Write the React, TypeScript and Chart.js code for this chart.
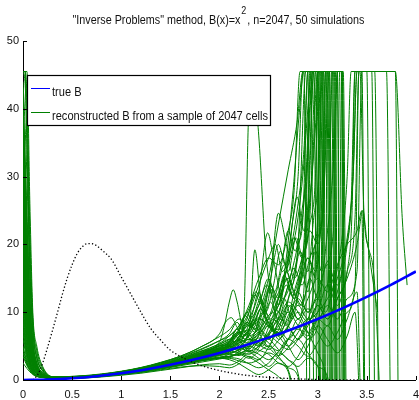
import React, { useEffect, useRef } from "react";
import { Chart, registerables } from "chart.js";
Chart.register(...registerables);

const titleParts = ['"Inverse Problems" method, B(x)=x', "2", ", n=2047, 50 simulations"];
const legendLabels = ["true B", "reconstructed B from a sample of 2047 cells"];

const xTicks = [0, 0.5, 1, 1.5, 2, 2.5, 3, 3.5, 4];
const xTickLabels = ["0", "0.5", "1", "1.5", "2", "2.5", "3", "3.5", "4"];
const yTicks = [0, 10, 20, 30, 40, 50];
const yTickLabels = ["0", "10", "20", "30", "40", "50"];

// true B(x) = x^2, read at quarter steps
const trueX = [0, 0.25, 0.5, 0.75, 1, 1.25, 1.5, 1.75, 2, 2.25, 2.5, 2.75, 3, 3.25, 3.5, 3.75, 4];
const trueY = [0, 0.0625, 0.25, 0.5625, 1, 1.5625, 2.25, 3.0625, 4, 5.0625, 6.25, 7.5625, 9, 10.5625, 12.25, 14.0625, 16];

// dotted density curve
const densX = [0.1, 0.15, 0.2, 0.25, 0.3, 0.35, 0.4, 0.45, 0.5, 0.55, 0.6, 0.65, 0.7, 0.75, 0.8, 0.9, 1.0, 1.1, 1.2, 1.3, 1.4, 1.5, 1.6, 1.7, 1.8, 2.0, 2.2, 2.4, 2.6, 2.8, 3.0, 3.2, 3.5];
const densY = [0, 0.8, 2.5, 4.8, 7.3, 9.9, 12.6, 15.0, 17.0, 18.6, 19.6, 20.1, 20.1, 19.8, 19.2, 17.8, 15.2, 12.6, 10.0, 7.6, 5.9, 4.4, 3.5, 2.8, 2.2, 1.4, 0.85, 0.5, 0.3, 0.16, 0.08, 0.04, 0.01];

// shared x grid for the first part of every reconstruction
const headX = [0, 0.02, 0.04, 0.07, 0.1, 0.14, 0.2, 0.3, 0.45, 0.6, 0.8, 1.0, 1.2, 1.4, 1.6, 1.8, 2.0];

type Sim = { head: number[]; tail: number[][] };

const sim01: Sim = { head: [45.5, 45.5, 45.5, 26, 10, 5, 2, 0.5, 0.5, 0.6, 0.8, 1.15, 1.6, 2.2, 2.9, 3.7, 4.6], tail: [[2.1, 5.2], [2.2, 6.0], [2.3, 7.5], [2.4, 10], [2.5, 15], [2.6, 23], [2.7, 31], [2.79, 38], [2.85, 45.5], [3.25, 45.5], [3.28, -5]] };
const sim02: Sim = { head: [45.5, 44, 36, 17, 7.5, 3.4, 1.4, 0.45, 0.4, 0.45, 0.7, 1.05, 1.5, 2.0, 2.6, 3.3, 4.0], tail: [[2.1, 4.6], [2.2, 6], [2.25, 10], [2.3, 40], [2.35, 43], [2.4, 36], [2.47, 19], [2.55, 11], [2.63, 8], [2.72, 11], [2.8, 9], [2.87, 16], [2.92, 45.5], [3.0, 45.5], [3.03, -5]] };
const sim03: Sim = { head: [41, 32, 23, 11.5, 5.5, 2.5, 1.0, 0.4, 0.35, 0.4, 0.6, 0.95, 1.4, 1.9, 2.5, 3.2, 4.1], tail: [[2.1, 5], [2.16, 6.5], [2.24, 5], [2.35, 4], [2.45, 6], [2.55, 9], [2.65, 7], [2.75, 10], [2.85, 18], [2.95, 45.5], [3.12, 45.5], [3.15, -5]] };
const sim04: Sim = { head: [36, 26, 18, 9, 4.5, 2.0, 0.8, 0.36, 0.3, 0.35, 0.55, 0.9, 1.3, 1.8, 2.4, 3.0, 3.6], tail: [[2.1, 4.1], [2.2, 5.2], [2.3, 4.6], [2.4, 6.5], [2.5, 8.5], [2.6, 7], [2.7, 12], [2.8, 20], [2.88, 45.5], [2.93, 45.5], [2.96, -5]] };
const sim05: Sim = { head: [30, 22, 15, 7, 3.5, 1.6, 0.7, 0.35, 0.45, 0.55, 0.8, 1.2, 1.7, 2.3, 3.1, 4.2, 5.6], tail: [[2.05, 8], [2.1, 11.5], [2.14, 13.3], [2.18, 11.5], [2.23, 8], [2.3, 6.5], [2.4, 7.5], [2.5, 9], [2.6, 6], [2.7, 8], [2.8, 13], [2.9, 10], [2.97, 16], [3.0, 45.5], [3.06, 45.5], [3.08, -5]] };
const sim06: Sim = { head: [25, 17, 11, 5.5, 2.8, 1.3, 0.6, 0.32, 0.3, 0.4, 0.6, 0.95, 1.4, 1.9, 2.4, 2.9, 3.3], tail: [[2.1, 3.4], [2.2, 3.8], [2.3, 3.2], [2.4, 4.2], [2.5, 5], [2.6, 4.3], [2.7, 6], [2.8, 7.5], [2.9, 6.5], [3.0, 9], [3.1, 8], [3.2, 12], [3.3, 16], [3.35, 25], [3.38, 45.5], [3.79, 45.5], [3.86, 24], [3.91, 14]] };
const sim07: Sim = { head: [20, 14, 9, 4.5, 2.2, 1.1, 0.5, 0.3, 0.35, 0.45, 0.7, 1.05, 1.5, 2.1, 2.9, 3.9, 5.0], tail: [[2.1, 5.8], [2.2, 7], [2.3, 6.2], [2.4, 5], [2.5, 6.5], [2.6, 9], [2.7, 8], [2.8, 6], [2.9, 8], [3.0, 11], [3.1, 9], [3.2, 13], [3.3, 20], [3.36, 30], [3.4, 45.5], [3.43, 45.5], [3.47, 25], [3.52, 19], [3.61, 10]] };
const sim08: Sim = { head: [15, 10, 6.5, 3.2, 1.7, 0.9, 0.5, 0.3, 0.3, 0.35, 0.6, 0.9, 1.25, 1.7, 2.3, 3.1, 4.3], tail: [[2.1, 5], [2.2, 4.5], [2.3, 5.5], [2.4, 7], [2.5, 6], [2.6, 8.5], [2.7, 11], [2.8, 9], [2.9, 12], [3.0, 15], [3.1, 13], [3.2, 17], [3.3, 20], [3.4, 22], [3.45, 25], [3.47, -5]] };
const sim09: Sim = { head: [10, 7, 4.5, 2.5, 1.3, 0.7, 0.42, 0.3, 0.4, 0.5, 0.75, 1.1, 1.55, 2.15, 2.8, 3.6, 4.8], tail: [[2.1, 5.6], [2.2, 7.2], [2.28, 10], [2.36, 7.5], [2.44, 9], [2.52, 14], [2.6, 11], [2.68, 18], [2.75, 28], [2.81, 39], [2.86, 45.5], [2.9, 45.5], [2.92, -5]] };
const sim10: Sim = { head: [6, 4.5, 3, 1.8, 1.0, 0.6, 0.4, 0.3, 0.35, 0.4, 0.65, 1.0, 1.4, 1.85, 2.3, 2.8, 3.2], tail: [[2.1, 3.5], [2.2, 3.9], [2.3, 3.4], [2.4, 2.5], [2.5, 1.5], [2.6, 0.5], [2.7, -2], [2.75, -10]] };
const sim11: Sim = { head: [3.5, 2.8, 2.1, 1.4, 0.9, 0.55, 0.38, 0.3, 0.3, 0.38, 0.62, 0.98, 1.45, 2.05, 2.75, 3.5, 4.4], tail: [[2.1, 5], [2.2, 6.3], [2.28, 8.5], [2.36, 7.5], [2.44, 11], [2.52, 14], [2.6, 12], [2.68, 16], [2.76, 21], [2.84, 18], [2.91, 27], [2.96, 45.5], [3.18, 45.5], [3.2, -5]] };
const sim12: Sim = { head: [44, 38, 30, 15, 7, 3.2, 1.3, 0.44, 0.45, 0.5, 0.7, 1.0, 1.35, 1.8, 2.35, 3.0, 3.9], tail: [[2.1, 4.3], [2.2, 4.0], [2.3, 4.8], [2.4, 6.2], [2.5, 5.5], [2.6, 3.5], [2.7, 2], [2.8, 3.5], [2.9, 6], [3.0, 8], [3.05, 20], [3.08, 45.5], [3.14, 45.5], [3.17, -5]] };
const sim13: Sim = { head: [28, 20, 13.5, 6.5, 3.3, 1.5, 0.7, 0.34, 0.3, 0.35, 0.55, 0.85, 1.2, 1.6, 2.1, 2.6, 3.1], tail: [[2.1, 3.3], [2.2, 3.1], [2.3, 2.4], [2.4, 1.8], [2.5, 2.5], [2.6, 4], [2.7, 3], [2.8, 1], [2.85, -5]] };
const sim14: Sim = { head: [18, 12.5, 8, 4.1, 2.0, 1.0, 0.5, 0.3, 0.4, 0.5, 0.78, 1.15, 1.65, 2.3, 3.0, 3.8, 4.5], tail: [[2.1, 5], [2.2, 6.5], [2.3, 9], [2.4, 13], [2.49, 21.7], [2.56, 17], [2.64, 12], [2.72, 14], [2.8, 19], [2.88, 30], [2.93, 45.5], [3.1, 45.5], [3.13, -5]] };
const sim15: Sim = { head: [39, 30, 22, 11, 5.2, 2.4, 1.0, 0.4, 0.35, 0.42, 0.66, 1.02, 1.5, 2.1, 2.8, 3.5, 4.0], tail: [[2.1, 4.4], [2.2, 5.5], [2.3, 7.5], [2.36, 9], [2.42, 7.5], [2.5, 6], [2.6, 8], [2.7, 10], [2.8, 8], [2.9, 6], [3.0, 9], [3.1, 14], [3.15, 45.5], [3.22, 45.5], [3.25, -5]] };
const sim16: Sim = { head: [34, 25, 17, 8.5, 4.2, 1.9, 0.8, 0.36, 0.32, 0.4, 0.6, 0.92, 1.35, 1.9, 2.6, 3.5, 4.7], tail: [[2.1, 5.4], [2.2, 5.8], [2.28, 4.6], [2.36, 6], [2.44, 5], [2.52, 7.5], [2.6, 10], [2.68, 8], [2.76, 13], [2.84, 16], [2.9, 13], [2.96, 19], [3.0, 24], [3.04, 45.5], [3.09, 45.5], [3.12, -5]] };
const sim17: Sim = { head: [31, 23, 15.5, 7.2, 3.6, 1.6, 0.7, 0.35, 0.4, 0.48, 0.72, 1.08, 1.52, 2.05, 2.65, 3.25, 3.8], tail: [[2.1, 4.2], [2.2, 4.9], [2.3, 6.5], [2.4, 9], [2.5, 12], [2.6, 24.6], [2.68, 20], [2.76, 15], [2.84, 18], [2.92, 24], [2.98, 45.5], [3.2, 45.5], [3.23, -5]] };
const sim18: Sim = { head: [23, 16, 10.5, 5.2, 2.6, 1.25, 0.6, 0.32, 0.36, 0.44, 0.68, 1.04, 1.5, 2.05, 2.7, 3.5, 4.5], tail: [[2.1, 5.1], [2.2, 6], [2.3, 5.4], [2.4, 6.8], [2.5, 8], [2.6, 6.5], [2.7, 5], [2.8, 6], [2.9, 4], [3.0, 2], [3.1, 0.5], [3.15, -5]] };
const sim19: Sim = { head: [19, 13.5, 8.8, 4.4, 2.1, 1.05, 0.5, 0.3, 0.3, 0.36, 0.58, 0.92, 1.36, 1.88, 2.45, 3.05, 3.7], tail: [[2.1, 4], [2.2, 4.4], [2.3, 5.5], [2.4, 7], [2.5, 9.5], [2.6, 11], [2.7, 18], [2.79, 27], [2.86, 22], [2.94, 30], [3.0, 45.5], [3.05, 45.5], [3.07, -5]] };
const sim20: Sim = { head: [14, 9.5, 6.2, 3.1, 1.65, 0.88, 0.5, 0.3, 0.42, 0.5, 0.74, 1.1, 1.58, 2.18, 2.9, 3.8, 5.0], tail: [[2.1, 5.6], [2.18, 7.5], [2.26, 6], [2.34, 8.8], [2.42, 6.5], [2.5, 5], [2.58, 8], [2.66, 12], [2.74, 9], [2.82, 14], [2.9, 18], [2.98, 15], [3.03, 45.5], [3.24, 45.5], [3.27, -5]] };
const sim21: Sim = { head: [45.5, 45.5, 42, 22, 9, 4.4, 1.8, 0.48, 0.45, 0.52, 0.76, 1.12, 1.6, 2.2, 2.85, 3.6, 4.5], tail: [[2.1, 4.5], [2.2, 5.5], [2.3, 7], [2.36, 19.2], [2.42, 12], [2.5, 8], [2.6, 7], [2.7, 9], [2.8, 11], [2.9, 9], [3.0, 12], [3.06, 45.5], [3.11, 45.5], [3.14, -5]] };
const sim22: Sim = { head: [8.5, 6, 4, 2.2, 1.2, 0.65, 0.4, 0.3, 0.3, 0.34, 0.56, 0.88, 1.3, 1.8, 2.4, 3.1, 3.8], tail: [[2.1, 3.8], [2.2, 3.6], [2.3, 4.5], [2.4, 5.5], [2.5, 4.8], [2.6, 3.6], [2.7, 4.8], [2.8, 7], [2.9, 9], [3.0, 7], [3.1, 5], [3.2, 7], [3.3, 10], [3.38, 14], [3.42, 45.5], [3.7, 45.5], [3.74, -5]] };
const sim23: Sim = { head: [6.8, 5, 3.3, 1.9, 1.05, 0.6, 0.4, 0.3, 0.38, 0.46, 0.7, 1.06, 1.52, 2.1, 2.8, 3.7, 4.7], tail: [[2.1, 4.8], [2.2, 6], [2.28, 8.5], [2.36, 7], [2.44, 10], [2.52, 13.5], [2.6, 10], [2.68, 15], [2.76, 12], [2.84, 17], [2.92, 23], [2.97, 28], [3.02, 45.5], [3.15, 45.5], [3.18, -5]] };
const sim24: Sim = { head: [2.5, 2.1, 1.7, 1.2, 0.8, 0.5, 0.36, 0.3, 0.3, 0.35, 0.55, 0.85, 1.2, 1.65, 2.2, 2.8, 3.2], tail: [[2.1, 3.2], [2.2, 2.8], [2.3, 2.5], [2.4, 3], [2.5, 4], [2.6, 3.2], [2.7, 1.5], [2.78, -3]] };
const sim25: Sim = { head: [43, 34, 25, 12.5, 5.8, 2.6, 1.05, 0.42, 0.45, 0.55, 0.82, 1.2, 1.72, 2.38, 3.2, 4.2, 5.3], tail: [[2.1, 6], [2.2, 7.5], [2.3, 10], [2.4, 14], [2.5, 18], [2.57, 20], [2.64, 16], [2.72, 19], [2.8, 26], [2.86, 34], [2.9, 45.5], [3.0, 45.5], [3.02, -5]] };
const sim26: Sim = { head: [37, 27, 19, 9.5, 4.7, 2.1, 0.85, 0.37, 0.34, 0.42, 0.64, 1.0, 1.45, 2.0, 2.7, 3.5, 4.3], tail: [[2.1, 4.6], [2.2, 5.8], [2.28, 4.8], [2.36, 7], [2.44, 10], [2.52, 8], [2.6, 12], [2.68, 16], [2.76, 13], [2.84, 11], [2.92, 15], [3.0, 12], [3.08, 17], [3.16, 22], [3.2, 45.5], [3.26, 45.5], [3.29, -5]] };
const sim27: Sim = { head: [27, 19.5, 13, 6.3, 3.2, 1.5, 0.66, 0.34, 0.4, 0.48, 0.72, 1.05, 1.45, 1.95, 2.6, 3.5, 4.6], tail: [[2.1, 5], [2.2, 4.2], [2.3, 3.8], [2.4, 5], [2.5, 7], [2.6, 9], [2.7, 11.5], [2.8, 10], [2.9, 7], [3.0, 4], [3.08, 1], [3.14, -5]] };
const sim28: Sim = { head: [26, 18, 11.5, 5.8, 2.9, 1.35, 0.62, 0.32, 0.36, 0.44, 0.68, 1.04, 1.5, 2.06, 2.74, 3.55, 4.5], tail: [[2.1, 4.9], [2.2, 6.4], [2.3, 8.5], [2.4, 11], [2.48, 14], [2.56, 12], [2.64, 14.5], [2.72, 18], [2.8, 24], [2.86, 32], [2.9, 40], [2.94, 45.5], [3.04, 45.5], [3.06, -5]] };
const sim29: Sim = { head: [17, 12, 7.7, 3.9, 1.95, 0.98, 0.5, 0.3, 0.32, 0.38, 0.6, 0.94, 1.38, 1.9, 2.5, 3.15, 3.8], tail: [[2.1, 3.9], [2.2, 4.6], [2.3, 6], [2.4, 5.2], [2.5, 4.5], [2.6, 5.8], [2.7, 7.5], [2.8, 6], [2.9, 8.5], [3.0, 10], [3.1, 12], [3.2, 15], [3.3, 21], [3.36, 30], [3.4, 45.5], [3.5, 45.5], [3.53, -5]] };
const sim30: Sim = { head: [45.5, 45.5, 34, 16, 7.2, 3.3, 1.35, 0.44, 0.42, 0.5, 0.75, 1.12, 1.6, 2.2, 2.95, 3.9, 5.0], tail: [[2.1, 5.3], [2.2, 6.8], [2.3, 8], [2.4, 7], [2.5, 9], [2.6, 12], [2.7, 15], [2.76, 13], [2.83, 17], [2.9, 26], [2.96, 45.5], [3.02, 45.5], [3.05, -5]] };
const sim31: Sim = { head: [13, 9, 6, 3, 1.6, 0.85, 0.48, 0.3, 0.3, 0.33, 0.52, 0.82, 1.2, 1.66, 2.2, 2.8, 3.2], tail: [[2.1, 3], [2.2, 2.4], [2.3, 1.5], [2.4, 0.8], [2.5, 1.5], [2.6, 2.5], [2.7, 1.8], [2.8, 0.5], [2.86, -5]] };
const sim32: Sim = { head: [11, 7.6, 4.9, 2.6, 1.35, 0.72, 0.43, 0.3, 0.4, 0.5, 0.76, 1.14, 1.62, 2.24, 3.0, 3.9, 4.8], tail: [[2.1, 5.5], [2.18, 7.5], [2.26, 6.5], [2.34, 9], [2.42, 12], [2.5, 9.5], [2.58, 13], [2.66, 17], [2.74, 14], [2.82, 19], [2.9, 16], [2.96, 24], [3.01, 30], [3.05, 45.5], [3.12, 45.5], [3.15, -5]] };
const sim33: Sim = { head: [5, 3.8, 2.7, 1.6, 0.95, 0.58, 0.38, 0.3, 0.35, 0.42, 0.64, 0.98, 1.42, 1.96, 2.6, 3.4, 4.2], tail: [[2.1, 4.5], [2.2, 4.8], [2.3, 4.2], [2.4, 5], [2.5, 6.5], [2.6, 5.5], [2.7, 4.5], [2.8, 6], [2.9, 9], [3.0, 12], [3.08, 10], [3.16, 14], [3.24, 20], [3.3, 30], [3.34, 45.5], [3.45, 45.5], [3.48, -5]] };
const sim34: Sim = { head: [7.5, 5.5, 3.7, 2.1, 1.15, 0.65, 0.42, 0.3, 0.45, 0.56, 0.84, 1.25, 1.8, 2.5, 3.4, 4.5, 5.8], tail: [[2.1, 6.5], [2.2, 8], [2.3, 11], [2.4, 15], [2.5, 18], [2.6, 17], [2.7, 22], [2.76, 28], [2.82, 45.5], [2.86, 45.5], [2.89, -5]] };
const sim35: Sim = { head: [4, 3.1, 2.3, 1.5, 0.92, 0.56, 0.38, 0.3, 0.3, 0.36, 0.58, 0.9, 1.3, 1.8, 2.35, 2.95, 3.4], tail: [[2.1, 3.5], [2.2, 3.8], [2.3, 4.4], [2.4, 3.8], [2.5, 3], [2.6, 4.2], [2.7, 6], [2.8, 5], [2.9, 3.5], [3.0, 5.5], [3.1, 8], [3.2, 6], [3.3, 9], [3.4, 13], [3.44, -5]] };
const sim36: Sim = { head: [40, 31, 22.5, 11.2, 5.3, 2.45, 1.0, 0.4, 0.38, 0.45, 0.68, 1.02, 1.46, 2.0, 2.62, 3.3, 4.0], tail: [[2.1, 4.2], [2.2, 5.2], [2.28, 7], [2.36, 5.8], [2.44, 8.5], [2.52, 11.5], [2.6, 9], [2.68, 13], [2.76, 16.5], [2.84, 14], [2.92, 18], [3.0, 21], [3.06, 26], [3.1, 45.5], [3.2, 45.5], [3.22, -5]] };
const sim37: Sim = { head: [33, 24, 16.5, 8.2, 4.1, 1.85, 0.78, 0.36, 0.42, 0.52, 0.78, 1.16, 1.66, 2.3, 3.05, 4.0, 5.1], tail: [[2.1, 5.7], [2.2, 7], [2.3, 7.5], [2.4, 9.2], [2.5, 8], [2.6, 10], [2.7, 14], [2.8, 20], [2.85, 24], [2.9, 45.5], [2.96, 45.5], [2.99, -5]] };
const sim38: Sim = { head: [29, 21, 14.5, 6.8, 3.4, 1.55, 0.68, 0.34, 0.34, 0.4, 0.62, 0.96, 1.4, 1.94, 2.6, 3.4, 4.3], tail: [[2.1, 4.7], [2.2, 5.5], [2.3, 6], [2.4, 5], [2.5, 6.8], [2.6, 7.5], [2.7, 6], [2.8, 8], [2.9, 10.5], [3.0, 9], [3.1, 11], [3.2, 9], [3.3, 12], [3.4, 16], [3.45, 45.5], [3.79, 45.5], [3.82, -5]] };
const sim39: Sim = { head: [24, 16.5, 10.8, 5.3, 2.7, 1.28, 0.6, 0.32, 0.32, 0.38, 0.58, 0.9, 1.32, 1.84, 2.44, 3.1, 3.6], tail: [[2.1, 3.4], [2.2, 4.2], [2.3, 5], [2.4, 4.4], [2.5, 3.8], [2.6, 2.5], [2.7, 1.2], [2.76, -4]] };
const sim40: Sim = { head: [21, 14.5, 9.4, 4.7, 2.3, 1.12, 0.52, 0.3, 0.4, 0.48, 0.72, 1.08, 1.56, 2.14, 2.86, 3.7, 4.6], tail: [[2.1, 5.2], [2.18, 6.8], [2.26, 9.5], [2.34, 8], [2.42, 10.5], [2.5, 8.5], [2.58, 11], [2.66, 15.5], [2.74, 12.5], [2.82, 14], [2.9, 18], [2.98, 16], [3.04, 26], [3.08, 45.5], [3.25, 45.5], [3.27, -5]] };
const sim41: Sim = { head: [45.5, 45.5, 40, 20, 8.5, 4, 1.6, 0.46, 0.5, 0.62, 0.9, 1.3, 1.85, 2.6, 3.5, 4.8, 6.4], tail: [[2.1, 7.4], [2.2, 9], [2.3, 8], [2.4, 11], [2.5, 15], [2.56, 13], [2.63, 17], [2.7, 22], [2.77, 19], [2.84, 25], [2.9, 33], [2.95, 45.5], [3.08, 45.5], [3.1, -5]] };
const sim42: Sim = { head: [32, 23.5, 16, 7.8, 3.8, 1.7, 0.72, 0.35, 0.25, 0.28, 0.45, 0.7, 1.0, 1.4, 1.8, 2.2, 2.4], tail: [[2.1, 2.2], [2.2, 2.8], [2.3, 4], [2.4, 3.2], [2.5, 2], [2.6, 3.5], [2.7, 6], [2.8, 9], [2.9, 7], [3.0, 10], [3.1, 14], [3.2, 11], [3.3, 16], [3.38, 24], [3.42, 45.5], [3.58, 45.5], [3.62, -5]] };
const sim43: Sim = { head: [22, 15.5, 10, 5, 2.5, 1.2, 0.55, 0.31, 0.42, 0.52, 0.8, 1.2, 1.75, 2.45, 3.3, 4.4, 5.8], tail: [[2.1, 6.8], [2.18, 8.5], [2.25, 7], [2.33, 9.5], [2.4, 13], [2.47, 10], [2.55, 14], [2.62, 19], [2.7, 16], [2.78, 21], [2.85, 18], [2.92, 26], [2.98, 38], [3.01, 45.5], [3.17, 45.5], [3.19, -5]] };
const sim44: Sim = { head: [12, 8.2, 5.3, 2.8, 1.45, 0.78, 0.45, 0.3, 0.28, 0.3, 0.5, 0.78, 1.1, 1.5, 1.9, 2.1, 2.0], tail: [[2.1, 1.8], [2.2, 2.4], [2.3, 3.5], [2.4, 3], [2.5, 4.8], [2.6, 7], [2.7, 5], [2.8, 3], [2.9, 5], [3.0, 8], [3.1, 6], [3.2, 4], [3.3, 6.5], [3.38, 10], [3.43, -5]] };
const sim45: Sim = { head: [35, 25.5, 17.5, 8.7, 4.3, 1.95, 0.8, 0.36, 0.45, 0.55, 0.85, 1.25, 1.8, 2.55, 3.5, 4.8, 6.8], tail: [[2.06, 8.5], [2.12, 9.2], [2.2, 7.5], [2.28, 9], [2.36, 12.5], [2.44, 11], [2.52, 15], [2.6, 20], [2.67, 17], [2.74, 23], [2.8, 30], [2.85, 45.5], [2.98, 45.5], [3.01, -5]] };
const sim46: Sim = { head: [16, 11, 7, 3.5, 1.8, 0.95, 0.5, 0.3, 0.35, 0.42, 0.65, 1.0, 1.45, 2.0, 2.7, 3.6, 5.2], tail: [[2.1, 6], [2.2, 5], [2.3, 4.2], [2.4, 5.8], [2.5, 8], [2.6, 6.5], [2.7, 9.5], [2.8, 12], [2.9, 10], [3.0, 13], [3.1, 17], [3.2, 14], [3.28, 19], [3.34, 26], [3.38, 45.5], [3.55, 45.5], [3.58, -5]] };
const sim47: Sim = { head: [26.5, 18.5, 12, 6, 3, 1.4, 0.64, 0.33, 0.38, 0.46, 0.7, 1.05, 1.5, 2.05, 2.7, 3.5, 4.4], tail: [[2.1, 5.4], [2.18, 7], [2.26, 6], [2.34, 8], [2.42, 10.5], [2.5, 8.5], [2.58, 7], [2.66, 10], [2.74, 13], [2.82, 11], [2.9, 14], [2.98, 19], [3.04, 16], [3.1, 22], [3.16, 32], [3.2, 45.5], [3.24, 45.5], [3.26, -5]] };
const sim48: Sim = { head: [9, 6.3, 4.1, 2.3, 1.25, 0.68, 0.41, 0.3, 0.3, 0.36, 0.58, 0.9, 1.3, 1.78, 2.3, 2.85, 3.3], tail: [[2.1, 3.8], [2.2, 4.5], [2.3, 5.8], [2.4, 7.5], [2.5, 6.2], [2.6, 4.5], [2.7, 3], [2.8, 2], [2.9, 3.2], [3.0, 2], [3.08, -5]] };
const sim49: Sim = { head: [38, 28, 19.5, 9.7, 4.8, 2.2, 0.88, 0.38, 0.44, 0.54, 0.8, 1.18, 1.68, 2.32, 3.1, 4.1, 5.4], tail: [[2.1, 6.5], [2.2, 8], [2.3, 10.5], [2.37, 13], [2.44, 11], [2.52, 9], [2.6, 11], [2.68, 14], [2.76, 12], [2.84, 16], [2.92, 22], [3.0, 20], [3.06, 27], [3.12, 45.5], [3.16, 45.5], [3.19, -5]] };
const sim50: Sim = { head: [4.5, 3.5, 2.5, 1.55, 0.93, 0.57, 0.38, 0.3, 0.33, 0.4, 0.62, 0.96, 1.4, 1.95, 2.6, 3.4, 4.2], tail: [[2.1, 4.9], [2.2, 5.8], [2.3, 7.2], [2.4, 9], [2.5, 8], [2.6, 6.5], [2.7, 8], [2.8, 10], [2.9, 8.5], [3.0, 11], [3.1, 9], [3.2, 12], [3.3, 15], [3.4, 20], [3.46, 25], [3.5, 20.6], [3.58, 14], [3.64, -5]] };

const sims: Sim[] = [
  sim01, sim02, sim03, sim04, sim05, sim06, sim07, sim08, sim09, sim10,
  sim11, sim12, sim13, sim14, sim15, sim16, sim17, sim18, sim19, sim20,
  sim21, sim22, sim23, sim24, sim25, sim26, sim27, sim28, sim29, sim30,
  sim31, sim32, sim33, sim34, sim35, sim36, sim37, sim38, sim39, sim40,
  sim41, sim42, sim43, sim44, sim45, sim46, sim47, sim48, sim49, sim50,
];

const BLUE = "#0000ff";
const GREEN = "#008000";
const FONT = '"Liberation Sans", Arial, sans-serif';
const NARROW = '"Liberation Sans Narrow", "Liberation Sans", Arial, sans-serif';

const toPts = (xs: number[], ys: number[]) => xs.map((x, i) => ({ x, y: ys[i] }));
const simPts = (s: Sim) => [...toPts(headX, s.head), ...s.tail.map(([x, y]) => ({ x, y }))];

const tickPlugin = {
  id: "inwardTicks",
  afterDatasetsDraw(chart: any) {
    const { ctx, chartArea: ca, scales } = chart;
    ctx.save();
    ctx.strokeStyle = "#000";
    ctx.lineWidth = 1;
    xTicks.forEach((v) => {
      const px = Math.round(scales.x.getPixelForValue(v)) + 0.5;
      ctx.beginPath();
      ctx.moveTo(px, ca.bottom);
      ctx.lineTo(px, ca.bottom - 4);
      ctx.stroke();
    });
    yTicks.forEach((v) => {
      const py = Math.round(scales.y.getPixelForValue(v)) + 0.5;
      ctx.beginPath();
      ctx.moveTo(ca.left, py);
      ctx.lineTo(ca.left + 4, py);
      ctx.stroke();
    });
    ctx.restore();
  },
};

const titlePlugin = {
  id: "supTitle",
  afterDraw(chart: any) {
    const { ctx, chartArea: ca } = chart;
    const target = 292;
    ctx.save();
    ctx.font = `12px ${NARROW}`;
    const w1 = ctx.measureText(titleParts[0]).width;
    const w3 = ctx.measureText(titleParts[2]).width;
    ctx.font = `10px ${NARROW}`;
    const w2 = ctx.measureText(titleParts[1]).width;
    const total = w1 + w2 + w3 + 2;
    const sx = Math.min(1, target / total);
    const cx = (ca.left + ca.right) / 2 - 1;
    ctx.translate(cx - (total * sx) / 2, 0);
    ctx.scale(sx, 1);
    ctx.fillStyle = "#111";
    ctx.textAlign = "left";
    ctx.textBaseline = "alphabetic";
    const base = 23.5;
    ctx.font = `12px ${NARROW}`;
    ctx.fillText(titleParts[0], 0, base);
    ctx.font = `10px ${NARROW}`;
    ctx.fillText(titleParts[1], w1 + 1, base - 10);
    ctx.font = `12px ${NARROW}`;
    ctx.fillText(titleParts[2], w1 + w2 + 2, base);
    ctx.restore();
  },
};

const legendPlugin = {
  id: "boxLegend",
  afterDraw(chart: any) {
    const { ctx, chartArea: ca } = chart;
    const L = ca.left + 4;
    const T = ca.top + 34;
    const W = 243;
    const H = 50;
    ctx.save();
    ctx.fillStyle = "#fff";
    ctx.fillRect(L, T, W, H);
    ctx.strokeStyle = "#000";
    ctx.lineWidth = 1.2;
    ctx.strokeRect(L + 0.5, T + 0.5, W, H);
    ctx.lineWidth = 1;
    ctx.strokeStyle = BLUE;
    ctx.beginPath();
    ctx.moveTo(L + 4, T + 13.5);
    ctx.lineTo(L + 23, T + 13.5);
    ctx.stroke();
    ctx.strokeStyle = GREEN;
    ctx.beginPath();
    ctx.moveTo(L + 4, T + 37.5);
    ctx.lineTo(L + 23, T + 37.5);
    ctx.stroke();
    ctx.font = `12px ${NARROW}`;
    const wl = ctx.measureText(legendLabels[1]).width;
    const sx = Math.min(1, 216 / wl);
    ctx.fillStyle = "#111";
    ctx.textAlign = "left";
    ctx.textBaseline = "middle";
    ctx.translate(L + 25, 0);
    ctx.scale(sx, 1);
    ctx.fillText(legendLabels[0], 0, T + 18);
    ctx.fillText(legendLabels[1], 0, T + 42);
    ctx.restore();
  },
};

export default function App() {
  const ref = useRef<HTMLCanvasElement | null>(null);
  useEffect(() => {
    document.body.style.margin = "0";
    const canvas = ref.current;
    if (!canvas) return;
    const datasets: any[] = [
      {
        label: legendLabels[0],
        data: toPts(trueX, trueY),
        borderColor: BLUE,
        borderWidth: 2.6,
        pointRadius: 0,
        cubicInterpolationMode: "monotone",
        order: 0,
      },
      {
        label: "density",
        data: toPts(densX, densY),
        borderColor: "#000",
        borderWidth: 1.3,
        borderDash: [1.3, 2.2],
        pointRadius: 0,
        cubicInterpolationMode: "monotone",
        order: 1,
      },
      ...sims.map((s, i) => ({
        label: i === 0 ? legendLabels[1] : `sim ${i + 1}`,
        data: simPts(s),
        borderColor: GREEN,
        borderWidth: 1,
        pointRadius: 0,
        cubicInterpolationMode: "monotone",
        order: 2,
      })),
    ];
    const chart = new Chart(canvas, {
      type: "line",
      data: { datasets },
      options: {
        responsive: false,
        animation: false,
        layout: { padding: { top: 41, right: 3, left: 0, bottom: 0 } },
        plugins: {
          legend: { display: false },
          title: { display: false },
          tooltip: { enabled: false },
        },
        scales: {
          x: {
            type: "linear",
            min: 0,
            max: 4,
            afterBuildTicks: (s: any) => {
              s.ticks = xTicks.map((v) => ({ value: v }));
            },
            afterFit: (s: any) => {
              s.height = 20;
            },
            grid: { drawOnChartArea: false, drawTicks: true, tickLength: 8, tickColor: "rgba(0,0,0,0)" },
            border: { display: true, color: "#000", width: 1 },
            ticks: {
              autoSkip: false,
              maxRotation: 0,
              padding: 0,
              color: "#111",
              font: { family: FONT, size: 11 },
              callback: (_v: any, i: number) => xTickLabels[i],
            },
          },
          y: {
            type: "linear",
            min: 0,
            max: 50,
            afterBuildTicks: (s: any) => {
              s.ticks = yTicks.map((v) => ({ value: v }));
            },
            afterFit: (s: any) => {
              s.width = 23;
            },
            grid: { drawOnChartArea: false, drawTicks: false },
            border: { display: true, color: "#000", width: 1 },
            ticks: {
              padding: 4,
              color: "#111",
              font: { family: FONT, size: 11 },
              callback: (_v: any, i: number) => yTickLabels[i],
            },
          },
        },
      },
      plugins: [tickPlugin, titlePlugin, legendPlugin],
    });
    return () => chart.destroy();
  }, []);
  return <canvas ref={ref} width={419} height={400} style={{ display: "block" }} />;
}
